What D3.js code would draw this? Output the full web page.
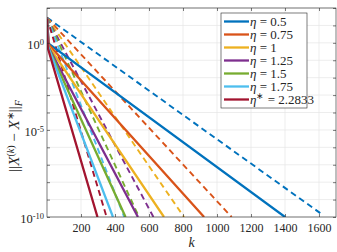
<!DOCTYPE html>
<html>
<head>
<meta charset="utf-8">
<script src="https://cdn.jsdelivr.net/npm/d3@7"></script>
<style>
  body { margin: 0; background: #fff; }
</style>
</head>
<body>
<svg width="337" height="252"></svg>
<script>
// step sizes, legend labels, colours
const etas = ["0.5", "0.75", "1", "1.25", "1.5", "1.75", "2.2833"];
const colors = ["#0072BD", "#D95319", "#EDB120", "#7E2F8E", "#77AC30", "#4DBEEE", "#A2142F"];

// solid curves: [k, ||X^(k) - X*||_F]
const solid = [
  [[0, 25], [10, 0.9], [1400, 1e-10]],
  [[0, 25], [10, 0.8], [924, 1e-10]],
  [[0, 25], [8, 0.7], [688, 1e-10]],
  [[0, 25], [8, 0.6], [535, 1e-10]],
  [[0, 25], [6, 0.6], [462, 1e-10]],
  [[0, 25], [6, 0.6], [388, 1e-10]],
  [[0, 25], [5, 0.5], [297, 1e-10]]
];

// dashed curves
const dashed = [
  [[0, 28], [1610, 1.6e-10]],
  [[0, 28], [1086, 1e-10]],
  [[0, 28], [806, 1e-10]],
  [[0, 28], [626, 1e-10]],
  [[0, 28], [541, 1e-10]],
  [[0, 28], [454, 1e-10]],
  [[0, 28], [347, 1.3e-10]]
];

const xTicks = [200, 400, 600, 800, 1000, 1200, 1400, 1600];
const yTicks = d3.range(-10, 3).map(e => Math.pow(10, e));
const yLabels = { "-10": "-10", "-5": "-5", "0": "0" };

const FONT = "'Liberation Serif', 'Times New Roman', serif";
const L = 47, R = 336, T = 8, B = 217;
let x = d3.scaleLinear().domain([0, 1700]).range([L, R]);
let y = d3.scaleLog().domain([1e-10, 1e2]).range([B, T]);

let svg = d3.select("svg");

// grid
svg.append("g").selectAll("line").data(xTicks).join("line")
  .attr("x1", d => x(d)).attr("x2", d => x(d))
  .attr("y1", T).attr("y2", B)
  .style("stroke", "#e5e5e5").style("stroke-width", 0.7);
svg.append("g").selectAll("line").data(yTicks).join("line")
  .attr("x1", L).attr("x2", R)
  .attr("y1", d => y(d)).attr("y2", d => y(d))
  .style("stroke", "#e5e5e5").style("stroke-width", 0.7);

svg.append("clipPath").attr("id", "clip")
  .append("rect").attr("x", L).attr("y", T).attr("width", R - L).attr("height", B - T);

let line = d3.line().x(d => x(d[0])).y(d => y(d[1]));

let plot = svg.append("g").attr("clip-path", "url(#clip)");
plot.selectAll("path.dash").data(dashed).join("path")
  .attr("class", "dash")
  .attr("d", line)
  .style("fill", "none")
  .style("stroke", (d, i) => colors[i])
  .style("stroke-width", 1.9)
  .style("stroke-dasharray", "6,4");
plot.selectAll("path.solid").data(solid).join("path")
  .attr("class", "solid")
  .attr("d", line)
  .style("fill", "none")
  .style("stroke", (d, i) => colors[i])
  .style("stroke-width", 2.3);

// axes with inward ticks
function styleAxis(g) {
  g.select(".domain").remove();
  g.selectAll(".tick line").style("stroke", "#262626").style("stroke-width", 0.6);
  g.selectAll("text").style("font-size", "12px").style("font-family", FONT).style("fill", "#262626");
}

svg.append("g").attr("transform", `translate(0,${B})`)
  .call(d3.axisBottom(x).tickValues(xTicks).tickSize(-3).tickPadding(6).tickFormat(d3.format("d")))
  .call(styleAxis);
svg.append("g").attr("transform", `translate(0,${T})`)
  .call(d3.axisTop(x).tickValues(xTicks).tickSize(-3).tickFormat(""))
  .call(styleAxis);

let yAxis = svg.append("g").attr("transform", `translate(${L},0)`)
  .call(d3.axisLeft(y).tickValues(yTicks).tickSize(-3).tickPadding(4).tickFormat(""))
  .call(styleAxis);
svg.append("g").attr("transform", `translate(${R},0)`)
  .call(d3.axisRight(y).tickValues(yTicks).tickSize(-3).tickFormat(""))
  .call(styleAxis);

yAxis.selectAll(".tick").each(function (d) {
  const e = Math.round(Math.log10(d));
  const lab = yLabels[e];
  if (lab === undefined) return;
  const t = d3.select(this).append("text")
    .attr("x", -3).attr("dy", "0.45em")
    .attr("text-anchor", "end")
    .style("font-family", FONT).style("fill", "#262626")
    .style("font-size", "12.5px");
  t.append("tspan").text("10");
  t.append("tspan").attr("dy", "-0.45em").style("font-size", "8.5px").text(lab);
});

// frame
svg.append("rect").attr("x", L).attr("y", T).attr("width", R - L).attr("height", B - T)
  .style("fill", "none").style("stroke", "#262626").style("stroke-width", 0.6);

// axis labels
svg.append("text").attr("x", (L + R) / 2).attr("y", 247)
  .attr("text-anchor", "middle").style("font-family", FONT).style("fill", "#262626")
  .style("font-size", "14px").style("font-style", "italic")
  .text("k");

let yl = svg.append("text")
  .attr("transform", "translate(19,136) rotate(-90)")
  .attr("text-anchor", "middle").style("font-family", FONT).style("fill", "#262626")
  .style("font-size", "15px");
yl.append("tspan").text("||");
yl.append("tspan").style("font-style", "italic").text("X");
yl.append("tspan").attr("dy", -5).style("font-size", "10px").text("(");
yl.append("tspan").style("font-size", "10px").style("font-style", "italic").text("k");
yl.append("tspan").style("font-size", "10px").text(")");
yl.append("tspan").attr("dy", 5).text(" \u2212 ");
yl.append("tspan").style("font-style", "italic").text("X");
yl.append("tspan").attr("dy", -5).style("font-size", "10px").text("\u2217");
yl.append("tspan").attr("dy", 5).text("||");
yl.append("tspan").attr("dy", 3).style("font-size", "10px").style("font-style", "italic").text("F");

// legend
const lx = 221, ly = 13, rowH = 13;
let legend = svg.append("g");
legend.append("rect").attr("x", lx).attr("y", ly).attr("width", 86).attr("height", 95)
  .style("fill", "#fff").style("stroke", "#262626").style("stroke-width", 0.6);
etas.forEach((eta, i) => {
  const cy = ly + 8.5 + i * rowH;
  legend.append("line").attr("x1", lx + 3).attr("x2", lx + 28).attr("y1", cy).attr("y2", cy)
    .style("stroke", colors[i]).style("stroke-width", 2.3);
  const t = legend.append("text").attr("x", lx + 29).attr("y", cy).attr("dy", "0.35em")
    .style("font-family", FONT).style("fill", "#262626")
    .style("font-size", "13px");
  t.append("tspan").style("font-style", "italic").text("\u03b7");
  if (i === etas.length - 1) {
    t.append("tspan").attr("dy", -5).style("font-size", "9px").text("\u2217");
    t.append("tspan").attr("dy", 5).text(" = " + eta);
  } else {
    t.append("tspan").text(" = " + eta);
  }
});
</script>
</body>
</html>
